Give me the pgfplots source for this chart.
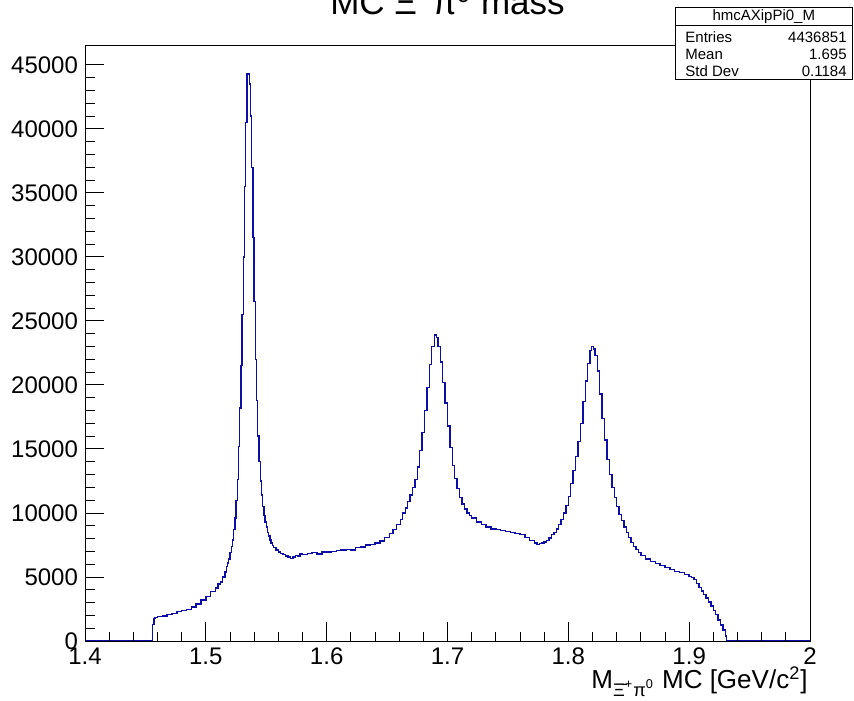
\documentclass[border=0pt]{standalone}
\usepackage{fontspec}
\setmainfont{Liberation Sans}
\usepackage{pgfplots}
\pgfplotsset{compat=1.18}
\usepackage{pgfplotstable}
\definecolor{rootblue}{rgb}{0.05,0.05,0.66}

% bin low edge, content
\pgfplotstableread{
x y
1.400 0
1.456 1300
1.457 1750
1.458 1850
1.460 1900
1.464 1950
1.468 2050
1.472 2150
1.476 2300
1.480 2400
1.484 2450
1.488 2650
1.492 2900
1.496 3200
1.500 3500
1.504 3850
1.508 4150
1.510 4450
1.512 4600
1.514 5000
1.516 5400
1.517 5800
1.518 6100
1.519 6400
1.520 6900
1.521 7400
1.522 7900
1.523 8700
1.524 9600
1.525 11000
1.526 12600
1.527 15200
1.528 18200
1.529 21500
1.530 25500
1.531 30000
1.532 35500
1.533 40500
1.534 44300
1.535 44350
1.536 43500
1.537 41000
1.538 37000
1.539 31500
1.540 26500
1.541 22000
1.542 18800
1.543 16000
1.544 14000
1.545 12500
1.546 11400
1.547 10500
1.548 9800
1.549 9300
1.550 8900
1.551 8500
1.552 8200
1.553 7900
1.554 7650
1.555 7450
1.556 7300
1.558 7100
1.560 6950
1.562 6850
1.564 6750
1.566 6650
1.568 6550
1.570 6450
1.572 6550
1.574 6700
1.576 6650
1.578 6800
1.580 6750
1.584 6850
1.588 6900
1.592 6800
1.596 6950
1.600 6950
1.604 7000
1.608 7050
1.612 7100
1.616 7150
1.620 7100
1.624 7300
1.628 7350
1.632 7500
1.636 7550
1.640 7650
1.644 7800
1.648 8100
1.652 8400
1.655 8700
1.658 9100
1.661 9500
1.663 10000
1.665 10400
1.667 10900
1.669 11400
1.671 12000
1.673 12600
1.675 13600
1.677 14900
1.679 16300
1.681 18000
1.683 19800
1.685 21600
1.687 23000
1.689 23900
1.690 23950
1.691 23700
1.692 23000
1.694 21800
1.696 20200
1.698 18600
1.700 16800
1.702 15100
1.704 13700
1.706 12700
1.708 11900
1.710 11200
1.712 10700
1.714 10300
1.716 10000
1.718 9800
1.720 9600
1.724 9300
1.728 9100
1.732 8900
1.736 8750
1.740 8700
1.744 8650
1.748 8550
1.752 8500
1.756 8400
1.760 8300
1.764 8100
1.768 7850
1.772 7650
1.774 7550
1.776 7600
1.778 7650
1.780 7750
1.782 7850
1.784 8050
1.786 8300
1.788 8500
1.790 8750
1.792 9100
1.794 9500
1.796 10000
1.798 10600
1.800 11300
1.802 12300
1.804 13300
1.806 14400
1.808 15600
1.810 17000
1.812 18700
1.814 20300
1.816 21700
1.818 22700
1.819 23000
1.820 23000
1.821 22800
1.822 22300
1.824 21100
1.826 19300
1.828 17400
1.830 15700
1.832 14200
1.834 13000
1.836 12000
1.838 11200
1.840 10500
1.842 9900
1.844 9400
1.846 8900
1.848 8500
1.850 8100
1.852 7700
1.854 7400
1.856 7150
1.858 6900
1.860 6700
1.864 6400
1.868 6200
1.872 6050
1.876 5900
1.880 5750
1.884 5600
1.888 5450
1.892 5350
1.896 5200
1.900 5050
1.902 4950
1.904 4800
1.906 4500
1.908 4200
1.910 3900
1.912 3650
1.914 3350
1.916 3050
1.918 2750
1.920 2400
1.922 2050
1.924 1650
1.926 1250
1.928 850
1.930 400
1.931 0
2.000 0
}\mchist

\begin{document}
\begin{tikzpicture}
\begin{axis}[
    scale only axis,
    width=362.5pt,
    height=297.5pt,
    xmin=1.4, xmax=2,
    ymin=0, ymax=46484,
    xtick={1.4,1.5,1.6,1.7,1.8,1.9,2},
    xticklabels={1.4,1.5,1.6,1.7,1.8,1.9,2},
    ytick={0,5000,10000,15000,20000,25000,30000,35000,40000,45000},
    scaled y ticks=false,
    yticklabel style={/pgf/number format/1000 sep={}},
    /pgf/number format/assume math mode=true,
    minor x tick num=4,
    minor y tick num=4,
    tick align=inside,
    tick pos=left,
    major tick length=9.5pt,
    minor tick length=4.75pt,
    tick style={black, line width=0.5pt},
    axis line style={line width=0.5pt},
    axis on top,
    tick label style={font=\fontsize{12}{14}\selectfont},
    clip=false,
]
\addplot[const plot, color=rootblue, line width=0.7pt] table {\mchist};
\coordinate (O) at (rel axis cs:0,0);
\end{axis}

\begin{scope}[shift={(O)}]
  % title (partly outside the page, as in the reference)
  \node[anchor=base, font=\fontsize{17.5}{20}\selectfont, inner sep=0pt]
    at (181.25pt,313pt) {MC Ξ̄\textsuperscript{+}π\textsuperscript{0} mass};
  % x axis title
  \node[anchor=base east, font=\fontsize{13}{15}\selectfont, inner sep=0pt]
    at (361.5pt,-23.5pt) {M\textsubscript{Ξ̄\textsuperscript{+}π\textsuperscript{0}} MC [GeV/c\textsuperscript{2}]};
  % stats box
  \draw[fill=white, line width=0.5pt] (295pt,280.5pt) rectangle (383.75pt,316.5pt);
  \draw[line width=0.5pt] (295pt,307.5pt) -- (383.75pt,307.5pt);
  \begin{scope}[font=\fontsize{7.5}{9}\selectfont, inner sep=0pt]
    \node[anchor=base] at (339.4pt,310pt) {hmcAXipPi0\_M};
    \node[anchor=base west] at (300pt,299pt) {Entries};
    \node[anchor=base west] at (300pt,290.5pt) {Mean};
    \node[anchor=base west] at (300pt,282.3pt) {Std Dev};
    \node[anchor=base east] at (381pt,299pt) {4436851};
    \node[anchor=base east] at (381pt,290.5pt) {1.695};
    \node[anchor=base east] at (381pt,282.3pt) {0.1184};
  \end{scope}
  \pgfresetboundingbox
  \useasboundingbox (-42.5pt,-29.5pt) rectangle (384.5pt,320.5pt);
\end{scope}
\end{tikzpicture}
\end{document}
